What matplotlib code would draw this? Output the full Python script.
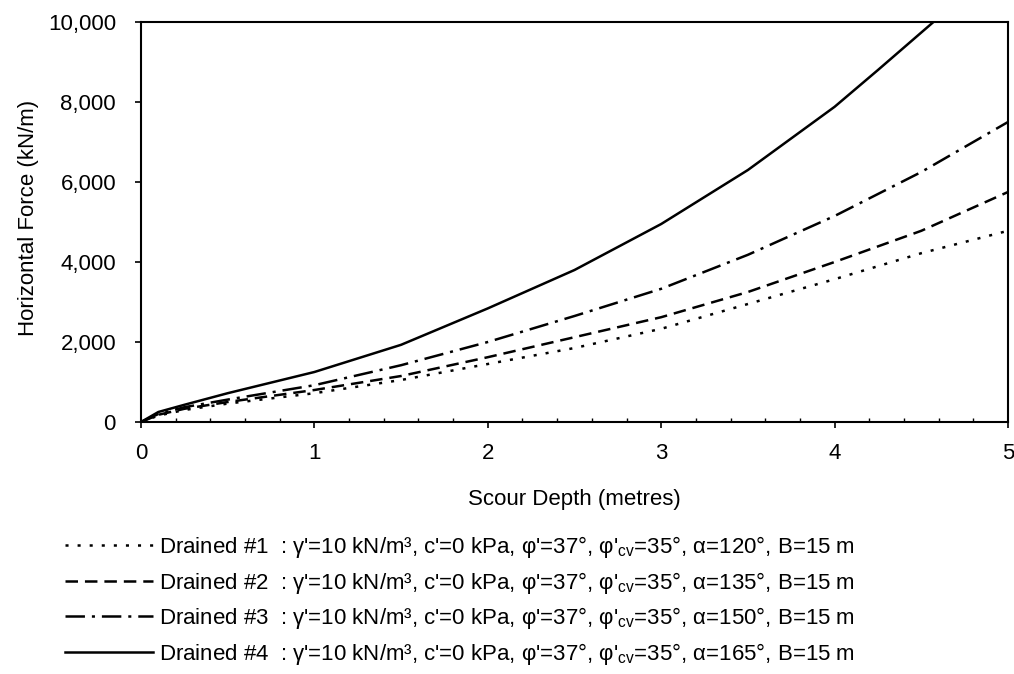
import matplotlib
matplotlib.use("Agg")
import matplotlib.pyplot as plt
from matplotlib.ticker import FuncFormatter, MultipleLocator

# ---- data ----
depth = [0, 0.1, 0.25, 0.5, 1.0, 1.5, 2.0, 2.5, 3.0, 3.5, 4.0, 4.5, 5.0]
drained1 = [0, 160, 300, 460, 720, 1050, 1450, 1850, 2330, 2950, 3570, 4220, 4780]
drained2 = [0, 180, 330, 500, 800, 1150, 1620, 2120, 2620, 3250, 4000, 4780, 5750]
drained3 = [0, 200, 370, 560, 920, 1420, 2000, 2650, 3330, 4180, 5150, 6250, 7500]
depth4 = [0, 0.1, 0.25, 0.5, 1.0, 1.5, 2.0, 2.5, 3.0, 3.5, 4.0, 4.25, 4.57]
drained4 = [0, 250, 430, 720, 1250, 1930, 2840, 3800, 4950, 6300, 7880, 8800, 10000]

labels = [
    "Drained #1  : γ'=10 kN/m³, c'=0 kPa, φ'=37°, φ'$_{\\mathrm{cv}}$=35°, α=120°, B=15 m",
    "Drained #2  : γ'=10 kN/m³, c'=0 kPa, φ'=37°, φ'$_{\\mathrm{cv}}$=35°, α=135°, B=15 m",
    "Drained #3  : γ'=10 kN/m³, c'=0 kPa, φ'=37°, φ'$_{\\mathrm{cv}}$=35°, α=150°, B=15 m",
    "Drained #4  : γ'=10 kN/m³, c'=0 kPa, φ'=37°, φ'$_{\\mathrm{cv}}$=35°, α=165°, B=15 m",
]
x_label = "Scour Depth (metres)"
y_label = "Horizontal Force (kN/m)"

plt.rcParams['font.family'] = ['Liberation Sans', 'DejaVu Sans']
plt.rcParams['mathtext.fontset'] = 'custom'
plt.rcParams['mathtext.rm'] = 'Liberation Sans'
plt.rcParams['mathtext.it'] = 'Liberation Sans:italic'
plt.rcParams['mathtext.bf'] = 'Liberation Sans:bold'
plt.rcParams['lines.scale_dashes'] = False

FS = 16
fig = plt.figure(figsize=(10.14, 6.74), dpi=100)
ax = fig.add_axes([141/1014, 1 - 422/674, (1008-141)/1014, (422-22)/674])

lw = 1.8
l1, = ax.plot(depth, drained1, color='black', lw=lw, dashes=(2.2, 6.5))
l2, = ax.plot(depth, drained2, color='black', lw=lw, dashes=(9, 5))
l3, = ax.plot(depth, drained3, color='black', lw=lw, dashes=(14, 5, 2.2, 5))
l4, = ax.plot(depth4, drained4, color='black', lw=lw)

ax.set_xlim(0, 5)
ax.set_ylim(0, 10000)
ax.xaxis.set_major_locator(MultipleLocator(1))
ax.xaxis.set_minor_locator(MultipleLocator(0.2))
ax.yaxis.set_major_locator(MultipleLocator(2000))
ax.yaxis.set_major_formatter(FuncFormatter(lambda v, p: f"{int(v):,}"))

for s in ax.spines.values():
    s.set_linewidth(1.5)

ax.tick_params(axis='both', which='major', direction='out', length=4, width=1.2,
               labelsize=FS, colors='black')
ax.tick_params(axis='x', which='major', pad=11)
ax.tick_params(axis='y', which='major', pad=14)
ax.tick_params(axis='x', which='minor', direction='in', length=3, width=1)

ax.set_xlabel(x_label, fontsize=FS)
ax.xaxis.set_label_coords(0.5, -0.168)
ax.set_ylabel(y_label, fontsize=FS)
ax.yaxis.label.set_va('center')
ax.yaxis.set_label_coords(-0.130, 0.51)

leg = fig.legend([l1, l2, l3, l4], labels, loc='upper left',
                 bbox_to_anchor=(65/1014, 1 - 534/674), bbox_transform=fig.transFigure,
                 frameon=False, fontsize=FS, handlelength=3.95, handletextpad=0.3,
                 labelspacing=0.43, borderpad=0, borderaxespad=0)

fig.savefig("out.png", dpi=100)
